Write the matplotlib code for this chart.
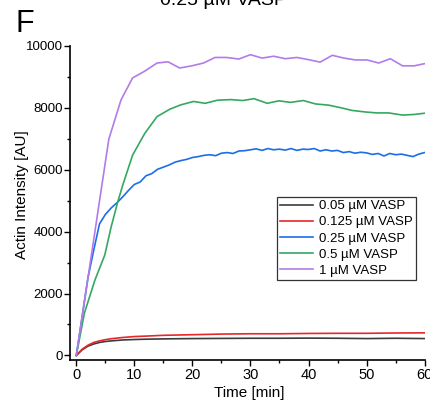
import numpy as np
import matplotlib
matplotlib.use("Agg")
from matplotlib import pyplot as plt
from matplotlib.ticker import MultipleLocator

plt.rcParams["font.family"] = ["Liberation Sans", "DejaVu Sans"]

# 0.05 uM VASP (black)
t_005 = [0, 1, 2, 3, 4, 5, 6, 8, 10, 12, 15, 20, 25, 30, 35, 40, 45, 50, 55, 60]
v_005 = [0, 180, 300, 370, 420, 450, 470, 500, 515, 525, 535, 545, 550, 555, 555, 560, 555, 545, 555, 545]

# 0.125 uM VASP (red)
t_0125 = [0, 1, 2, 3, 4, 5, 6, 8, 10, 12, 15, 20, 25, 30, 35, 40, 45, 50, 55, 60]
v_0125 = [0, 200, 330, 420, 470, 510, 540, 580, 610, 625, 650, 670, 690, 700, 700, 710, 715, 715, 725, 730]

# 0.25 uM VASP (blue), read every minute
t_025 = list(range(0, 61))
v_025 = [0, 1250, 2500, 3400, 4250, 4550, 4760, 4930, 5120, 5330,
         5520, 5600, 5800, 5870, 6010, 6080, 6150, 6240, 6290, 6330,
         6390, 6420, 6460, 6480, 6450, 6530, 6550, 6520, 6600, 6610,
         6640, 6670, 6620, 6680, 6640, 6660, 6630, 6680, 6620, 6660,
         6650, 6680, 6600, 6640, 6600, 6620, 6550, 6580, 6530, 6560,
         6540, 6490, 6520, 6440, 6520, 6480, 6500, 6460, 6420, 6500, 6550]

# 0.5 uM VASP (green)
t_05 = [0, 1.4, 3.2, 4.9, 6.0, 7.1, 8.0, 9.7, 11.8, 13.9, 16.1, 18.0, 20.2, 22.2, 24.3,
        26.6, 28.7, 30.6, 32.9, 34.9, 36.9, 39.1, 41.2, 43.5, 45.5, 47.5, 49.8, 51.8,
        53.8, 56.2, 58.2, 60.0]
v_05 = [0, 1370, 2430, 3240, 4150, 4930, 5500, 6470, 7170, 7710, 7950, 8090, 8200, 8140,
        8240, 8260, 8230, 8290, 8140, 8220, 8170, 8230, 8120, 8080, 8000, 7910, 7860,
        7830, 7830, 7760, 7780, 7820]

# 1 uM VASP (purple)
t_1 = [0, 1.6, 3.6, 5.6, 7.7, 9.7, 11.8, 13.9, 15.8, 17.8, 19.9, 21.9, 23.9, 25.9, 28.0,
       30.0, 32.0, 34.0, 36.0, 38.0, 40.0, 42.0, 44.1, 46.1, 48.1, 50.1, 52.1, 54.1,
       56.2, 58.2, 60.0]
v_1 = [0, 1990, 4490, 6980, 8250, 8960, 9180, 9440, 9480, 9280, 9350, 9440, 9620, 9620,
       9570, 9710, 9600, 9660, 9580, 9620, 9550, 9470, 9690, 9600, 9540, 9540, 9440,
       9580, 9350, 9350, 9420]

labels = ["0.05 µM VASP", "0.125 µM VASP", "0.25 µM VASP", "0.5 µM VASP", "1 µM VASP"]
colors = ["#3c3c3c", "#e8262b", "#1b6ee6", "#35a860", "#b27ce8"]

W, H = 431, 405
fig = plt.figure(figsize=(W / 100, H / 100), dpi=100)
ax = fig.add_axes([70.5 / W, (H - 360.1) / H, (424.6 - 70.5) / W, (360.1 - 45.7) / H])

series = [(t_005, v_005), (t_0125, v_0125), (t_025, v_025), (t_05, v_05), (t_1, v_1)]
for (t, v), lab, col in zip(series, labels, colors):
    ax.plot(t, v, color=col, lw=1.2, label=lab)

ax.set_xlim(-1.0, 60)
ax.set_ylim(-150, 10000)
ax.xaxis.set_major_locator(MultipleLocator(10))
ax.xaxis.set_minor_locator(MultipleLocator(5))
ax.yaxis.set_major_locator(MultipleLocator(2000))
ax.yaxis.set_minor_locator(MultipleLocator(1000))
for s in ["top", "right"]:
    ax.spines[s].set_visible(False)
for s in ["left", "bottom"]:
    ax.spines[s].set_linewidth(1.2)
ax.tick_params(which="major", direction="out", length=4, width=1.0, pad=1.5)
ax.tick_params(which="minor", direction="out", length=2.5, width=1.0)
ax.tick_params(axis="x", labelsize=10.5)
ax.tick_params(axis="y", labelsize=9.5)

fig.text(249 / W, 1 - 393 / H, "Time [min]", ha="center", va="center", fontsize=11)
fig.text(22 / W, 1 - 195 / H, "Actin Intensity [AU]", ha="center", va="center",
         rotation=90, fontsize=11)
fig.text(16 / W, 1 - 32 / H, "F", ha="left", va="baseline", fontsize=22)
fig.text(223 / W, 1 - 5 / H, "0.25 µM VASP", ha="center", va="baseline", fontsize=14)

leg = ax.legend(loc="upper left", bbox_to_anchor=(276.7 / W, 1 - 196.7 / H),
                bbox_transform=fig.transFigure, fontsize=9.5, frameon=True,
                fancybox=False, framealpha=1, edgecolor="#333333",
                borderpad=0.25, labelspacing=0.3, handlelength=2.5,
                handletextpad=0.45, borderaxespad=0)
leg.get_frame().set_linewidth(0.9)

fig.savefig("out.png", dpi=100)
